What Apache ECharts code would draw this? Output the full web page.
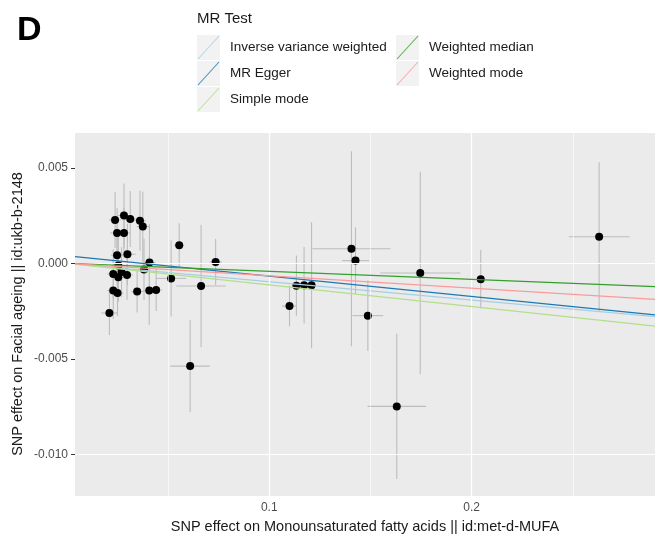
<!DOCTYPE html>
<html>
<head>
<meta charset="utf-8">
<script src="https://cdn.jsdelivr.net/npm/echarts@6/dist/echarts.min.js"></script>
<style>html,body{margin:0;padding:0;background:#fff}#c{width:661px;height:544px}</style>
</head>
<body>
<div id="c"></div>
<script>
// SNP effects on exposure (x) and outcome (y) with standard errors
const exposureBeta = [0.0238,0.0282,0.0313,0.0361,0.0375,0.0248,0.0282,0.0248,0.0299,0.0408,0.0254,0.0381,0.0229,0.0270,0.0254,0.0297,0.0229,0.0250,0.0347,0.0407,0.0441,0.0210,0.0515,0.0555,0.0663,0.0735,0.0609,0.1100,0.1134,0.1172,0.1209,0.1406,0.1426,0.1487,0.1630,0.1746,0.2045,0.2630];
const outcomeBeta = [0.00227,0.00250,0.00232,0.00223,0.00192,0.00159,0.00159,0.00042,0.00047,0.00004,-0.00012,-0.00032,-0.00056,-0.00046,-0.00073,-0.00061,-0.00142,-0.00156,-0.00148,-0.00143,-0.00140,-0.00260,-0.00079,0.00094,-0.00119,0.00007,-0.00538,-0.00224,-0.00117,-0.00115,-0.00115,0.00076,0.00014,-0.00274,-0.00749,-0.00051,-0.00084,0.00139];
const exposureSE = [0.003,0.003,0.003,0.003,0.003,0.0035,0.003,0.003,0.004,0.003,0.003,0.003,0.003,0.003,0.003,0.003,0.003,0.003,0.003,0.003,0.003,0.004,0.0074,0.0025,0.0122,0.003,0.0097,0.0037,0.002,0.002,0.002,0.0193,0.0067,0.0076,0.0145,0.0198,0.002,0.015];
const outcomeSE = [0.00147,0.00168,0.00147,0.00157,0.00183,0.0013,0.0013,0.0016,0.0016,0.0020,0.0016,0.0016,0.0013,0.0013,0.0013,0.0013,0.0015,0.0012,0.0011,0.0018,0.0011,0.00115,0.0020,0.00115,0.0032,0.0012,0.0024,0.00106,0.00158,0.0020,0.0033,0.0051,0.00175,0.00185,0.0038,0.0053,0.00153,0.0039];

// MR methods
const methods = ['Inverse variance weighted','MR Egger','Simple mode','Weighted median','Weighted mode'];
const methodColors = ['#A6CEE3','#1F78B4','#B2DF8A','#33A02C','#FB9A99'];
const intercepts = [0, 0.00039, 0, 0, 0];
const slopes = [-0.0096, -0.01064, -0.0113, -0.0042, -0.0065];
const drawOrder = [0, 1, 3, 2, 4];

// axes
const xMin = 0.004, xMax = 0.2906;
const yMin = -0.01218, yMax = 0.00682;
const xBreaks = [0.1, 0.2];
const xMinorBreaks = [0.05, 0.15, 0.25];
const yBreaks = [-0.010, -0.005, 0, 0.005];
const yMinorBreaks = [-0.0075, -0.0025, 0.0025];

const xTitle = 'SNP effect on Monounsaturated fatty acids || id:met-d-MUFA';
const yTitle = 'SNP effect on Facial ageing || id:ukb-b-2148';
const legendTitle = 'MR Test';
const panelLabel = 'D';

const FONT = '"Liberation Sans", Arial, sans-serif';
const chart = echarts.init(document.getElementById('c'), null, {renderer: 'canvas'});

const G = {left: 75, top: 133, right: 6, bottom: 48};

const gridMarks = [];
xMinorBreaks.forEach(v => gridMarks.push({xAxis: v, lineStyle: {color: '#fff', width: 0.6, type: 'solid'}}));
yMinorBreaks.forEach(v => gridMarks.push({yAxis: v, lineStyle: {color: '#fff', width: 0.6, type: 'solid'}}));
xBreaks.forEach(v => gridMarks.push({xAxis: v, lineStyle: {color: '#fff', width: 1.2, type: 'solid'}}));
yBreaks.forEach(v => gridMarks.push({yAxis: v, lineStyle: {color: '#fff', width: 1.2, type: 'solid'}}));

const points = exposureBeta.map((x, i) => [x, outcomeBeta[i], exposureSE[i], outcomeSE[i]]);

const series = [];
series.push({
  type: 'scatter', data: [], z: 1, silent: true,
  markLine: {silent: true, symbol: ['none', 'none'], label: {show: false}, animation: false, data: gridMarks}
});
series.push({
  type: 'custom', z: 2, silent: true, clip: true, data: points,
  renderItem: function (params, api) {
    const x = api.value(0), y = api.value(1), sx = api.value(2), sy = api.value(3);
    const a = api.coord([x - sx, y]), b = api.coord([x + sx, y]);
    const c = api.coord([x, y - sy]), d = api.coord([x, y + sy]);
    const st = {stroke: '#BDBDBD', lineWidth: 1.1};
    return {type: 'group', children: [
      {type: 'line', shape: {x1: a[0], y1: a[1], x2: b[0], y2: b[1]}, style: st},
      {type: 'line', shape: {x1: c[0], y1: c[1], x2: d[0], y2: d[1]}, style: st}
    ]};
  }
});
series.push({
  type: 'scatter', z: 3, silent: true, data: points.map(p => [p[0], p[1]]),
  symbol: 'circle', symbolSize: 8, itemStyle: {color: '#000', opacity: 1}
});
drawOrder.forEach((m, k) => {
  series.push({
    name: methods[m], type: 'line', z: 4 + k, silent: true, clip: true, showSymbol: false, symbol: 'none',
    data: [[xMin, intercepts[m] + slopes[m] * xMin], [xMax, intercepts[m] + slopes[m] * xMax]],
    lineStyle: {color: methodColors[m], width: 1.3}, animation: false
  });
});

// legend drawn as graphic elements
const legendEls = [];
const keyX = [197, 396], rowY = [35, 61, 87], keyW = 23, keyH = 25;
methods.forEach((m, i) => {
  const col = Math.floor(i / 3), row = i % 3;
  const x0 = keyX[col], y0 = rowY[row];
  legendEls.push({type: 'rect', left: x0, top: y0, shape: {width: keyW, height: keyH}, style: {fill: '#F2F2F2'}, z: 10});
  legendEls.push({type: 'line', shape: {x1: x0 + 1, y1: y0 + keyH - 1, x2: x0 + keyW - 1, y2: y0 + 1}, style: {stroke: methodColors[i], lineWidth: 1.1, opacity: 0.8}, z: 11});
  legendEls.push({type: 'text', x: x0 + keyW + 10, y: y0 + keyH / 2, style: {text: m, font: '13.5px ' + FONT, fill: '#1a1a1a', textVerticalAlign: 'middle', textAlign: 'left'}, z: 11});
});
legendEls.push({type: 'text', x: 197, y: 19, style: {text: legendTitle, font: '15px ' + FONT, fill: '#1a1a1a', textVerticalAlign: 'middle', textAlign: 'left'}, z: 11});
legendEls.push({type: 'text', x: 17, y: 31, style: {text: panelLabel, font: 'bold 34px ' + FONT, fill: '#000', textVerticalAlign: 'middle', textAlign: 'left'}, z: 11});
legendEls.push({type: 'text', x: 365, y: 527, style: {text: xTitle, font: '14.5px ' + FONT, fill: '#1a1a1a', textVerticalAlign: 'middle', textAlign: 'center'}, z: 11});
legendEls.push({type: 'text', x: 18, y: 314, rotation: Math.PI / 2, style: {text: yTitle, font: '14.5px ' + FONT, fill: '#1a1a1a', textVerticalAlign: 'middle', textAlign: 'center'}, z: 11});

chart.setOption({
  animation: false,
  backgroundColor: '#fff',
  grid: {left: G.left, top: G.top, right: G.right, bottom: G.bottom, show: true, backgroundColor: '#EBEBEB', borderWidth: 0, containLabel: false},
  xAxis: {
    type: 'value', min: xMin, max: xMax,
    axisLine: {show: false}, splitLine: {show: false},
    axisTick: {show: true, customValues: xBreaks, length: 4, lineStyle: {color: '#333', width: 1}},
    axisLabel: {customValues: xBreaks, color: '#4D4D4D', fontSize: 12, fontFamily: FONT, margin: 6, formatter: v => String(v)}
  },
  yAxis: {
    type: 'value', min: yMin, max: yMax,
    axisLine: {show: false}, splitLine: {show: false},
    axisTick: {show: true, customValues: yBreaks, length: 4, lineStyle: {color: '#333', width: 1}},
    axisLabel: {customValues: yBreaks, color: '#4D4D4D', fontSize: 12, fontFamily: FONT, margin: 7, formatter: v => v.toFixed(3)}
  },
  graphic: legendEls,
  series: series
});
</script>
</body>
</html>
